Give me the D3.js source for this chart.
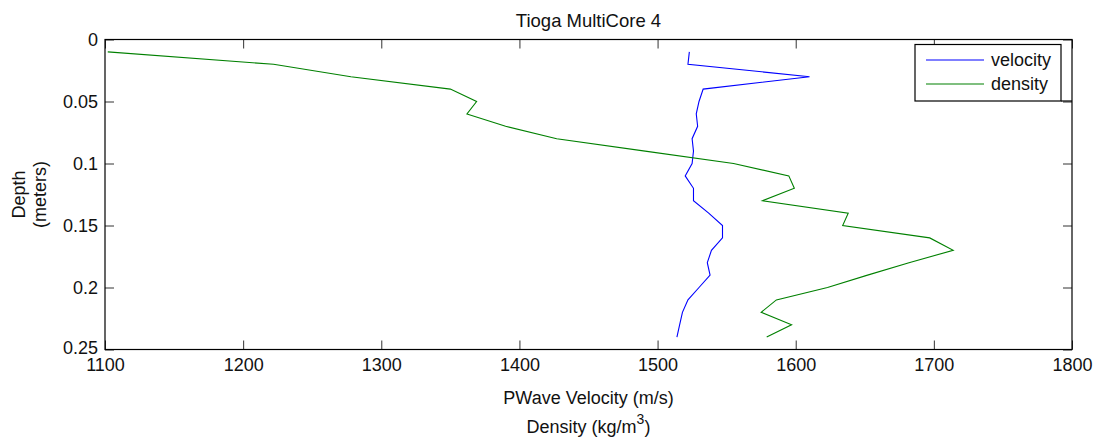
<!DOCTYPE html>
<html>
<head>
<meta charset="utf-8">
<script src="https://cdn.jsdelivr.net/npm/d3@7"></script>
<style>
  body { margin: 0; background: #fff; }
  svg text { font-family: "Liberation Sans", Arial, sans-serif; fill: #111; }
</style>
</head>
<body>
<div id="chart"></div>
<script>
// depth samples (meters)
let depth = [0.01, 0.02, 0.03, 0.04, 0.05, 0.06, 0.07, 0.08, 0.09, 0.10, 0.11, 0.12,
             0.13, 0.14, 0.15, 0.16, 0.17, 0.18, 0.19, 0.20, 0.21, 0.22, 0.23, 0.24]
// PWave velocity (m/s)
let velocity = [1523, 1522, 1610, 1533, 1530, 1528, 1529, 1525, 1526, 1525, 1520, 1526,
                1526, 1537, 1547, 1547, 1539, 1536, 1538, 1530, 1522, 1518, 1516, 1514]
// density (kg/m^3)
let density = [1102, 1222, 1278, 1350, 1369, 1362, 1390, 1427, 1491, 1555, 1595, 1599,
               1576, 1638, 1634, 1697, 1714, 1682, 1652, 1623, 1586, 1575, 1597, 1579]
let xTicks = [1100, 1200, 1300, 1400, 1500, 1600, 1700, 1800]
let yTicks = [0, 0.05, 0.1, 0.15, 0.2, 0.25]
let seriesNames = ["velocity", "density"]
let seriesColors = ["#0000ff", "#008000"]

let W = 1101, H = 443
let margin = {top: 39.5, right: 29, bottom: 93.5, left: 105}
let width = W - margin.left - margin.right
let height = H - margin.top - margin.bottom

let svg = d3.select("#chart").append("svg")
  .attr("width", W)
  .attr("height", H)

let g = svg.append("g")
  .attr("transform", "translate(" + margin.left + "," + margin.top + ")")

let xScale = d3.scaleLinear().domain([1100, 1800]).range([0, width])
let yScale = d3.scaleLinear().domain([0, 0.25]).range([0, height])

let fmtY = d => d === 0 ? "0" : String(+d.toFixed(2))

// axes (ticks point inward, like matlab)
let tickLen = 9
g.append("g").attr("class", "x axis")
  .attr("transform", "translate(0," + height + ")")
  .call(d3.axisBottom(xScale).tickValues(xTicks).tickSize(-tickLen).tickPadding(9).tickFormat(d3.format("d")))
g.append("g").attr("class", "x2 axis")
  .call(d3.axisTop(xScale).tickValues(xTicks).tickSize(-tickLen).tickFormat(""))
g.append("g").attr("class", "y axis")
  .call(d3.axisLeft(yScale).tickValues(yTicks).tickSize(-tickLen).tickPadding(7).tickFormat(fmtY))
g.append("g").attr("class", "y2 axis")
  .attr("transform", "translate(" + width + ",0)")
  .call(d3.axisRight(yScale).tickValues(yTicks).tickSize(-tickLen).tickFormat(""))

g.selectAll(".axis .domain").remove()
g.selectAll(".axis .tick line").attr("stroke", "#333").attr("stroke-width", 1)
g.selectAll(".axis text")
  .style("font-size", "18px")
  .attr("fill", "#111")

// the 0.25 label sits a little higher in the reference
g.select(".y.axis").selectAll(".tick text").filter(d => d === 0.25).attr("dy", "0.2em")

// frame
g.append("rect")
  .attr("x", 0).attr("y", 0)
  .attr("width", width).attr("height", height)
  .attr("fill", "none").attr("stroke", "#000").attr("stroke-width", 1.2)

// lines
let line = d3.line()
  .x(d => xScale(d[0]))
  .y(d => yScale(d[1]))

let seriesData = [
  d3.zip(velocity, depth),
  d3.zip(density, depth)
]

g.selectAll(".series")
  .data(seriesData)
  .enter().append("path")
  .attr("class", "series")
  .attr("d", line)
  .attr("fill", "none")
  .attr("stroke", (d, i) => seriesColors[i])
  .attr("stroke-width", 1.1)

// title
svg.append("text")
  .attr("x", margin.left + width / 2)
  .attr("y", 27)
  .attr("text-anchor", "middle")
  .style("font-size", "18.5px")
  .text("Tioga MultiCore 4")

// x labels
svg.append("text")
  .attr("x", margin.left + width / 2)
  .attr("y", 404)
  .attr("text-anchor", "middle")
  .style("font-size", "18px")
  .text("PWave Velocity (m/s)")

let dLabel = svg.append("text")
  .attr("x", margin.left + width / 2)
  .attr("y", 433)
  .attr("text-anchor", "middle")
  .style("font-size", "18px")
dLabel.append("tspan").text("Density (kg/m")
dLabel.append("tspan").attr("dy", -9).style("font-size", "14px").text("3")
dLabel.append("tspan").attr("dy", 9).text(")")

// y label (two lines)
let yl = svg.append("text")
  .attr("transform", "translate(0," + (margin.top + height / 2) + ") rotate(-90)")
  .attr("text-anchor", "middle")
  .style("font-size", "18px")
yl.append("tspan").attr("x", 0).attr("y", 25).text("Depth")
yl.append("tspan").attr("x", 0).attr("y", 46).text("(meters)")

// legend
let lg = svg.append("g").attr("class", "legend")
lg.append("rect")
  .attr("x", 915).attr("y", 44.5)
  .attr("width", 146).attr("height", 56.5)
  .attr("fill", "#fff").attr("stroke", "#000").attr("stroke-width", 1.2)
lg.append("line")
  .attr("x1", 1061).attr("x2", margin.left + width)
  .attr("y1", 101).attr("y2", 101)
  .attr("stroke", "#000").attr("stroke-width", 1.2)

seriesNames.forEach(function(name, i) {
  let yy = 60 + i * 24
  lg.append("line")
    .attr("x1", 926).attr("x2", 984)
    .attr("y1", yy).attr("y2", yy)
    .attr("stroke", seriesColors[i]).attr("stroke-width", 1.1)
  lg.append("text")
    .attr("x", 991)
    .attr("y", yy)
    .attr("dy", "0.35em")
    .style("font-size", "18px")
    .text(name)
})
</script>
</body>
</html>
